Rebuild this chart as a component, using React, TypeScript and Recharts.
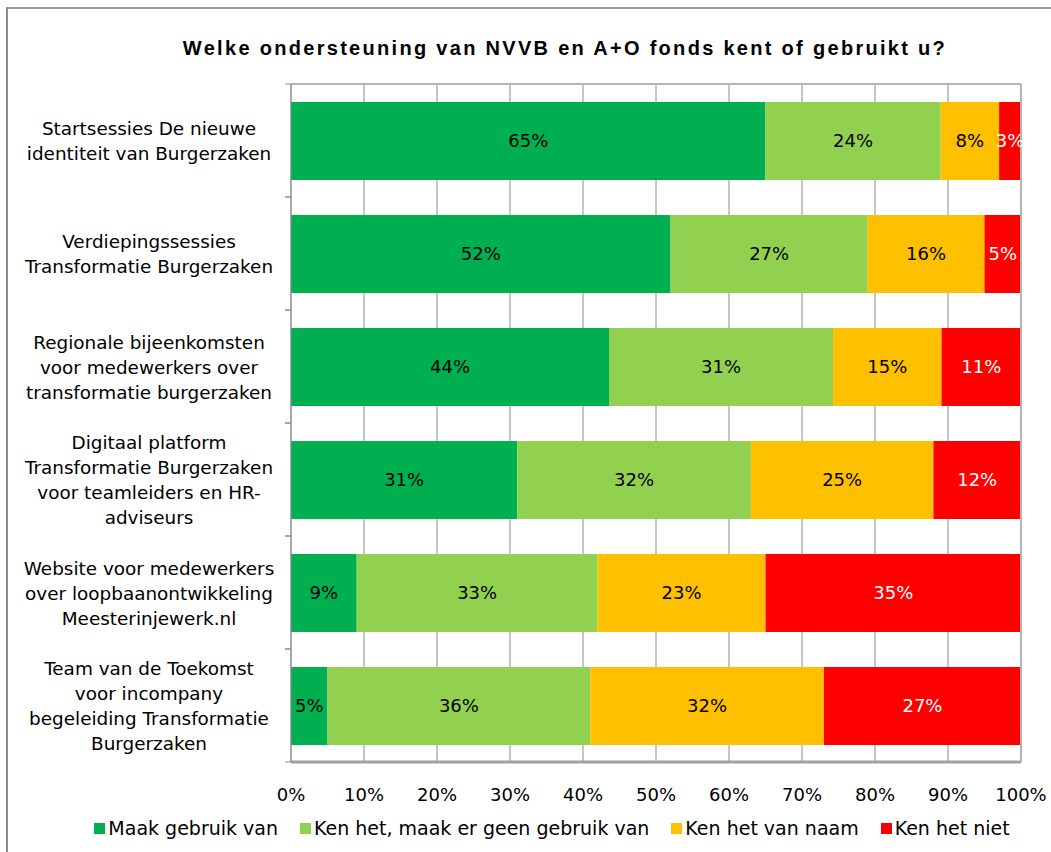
import React from "react";
import {
  BarChart,
  Bar,
  XAxis,
  YAxis,
  CartesianGrid,
  LabelList,
} from "recharts";

const categories = [
  "Startsessies De nieuwe\nidentiteit van Burgerzaken",
  "Verdiepingssessies\nTransformatie Burgerzaken",
  "Regionale bijeenkomsten\nvoor medewerkers over\ntransformatie burgerzaken",
  "Digitaal platform\nTransformatie Burgerzaken\nvoor teamleiders en HR-\nadviseurs",
  "Website voor medewerkers\nover loopbaanontwikkeling\nMeesterinjewerk.nl",
  "Team van de Toekomst\nvoor incompany\nbegeleiding Transformatie\nBurgerzaken",
];

const maakGebruik = [65, 52, 44, 31, 9, 5];
const kenGeenGebruik = [24, 27, 31, 32, 33, 36];
const kenVanNaam = [8, 16, 15, 25, 23, 32];
const kenNiet = [3, 5, 11, 12, 35, 27];

const seriesNames = [
  "Maak gebruik van",
  "Ken het, maak er geen gebruik van",
  "Ken het van naam",
  "Ken het niet",
];
const seriesKeys = ["maak", "kenGeen", "naam", "niet"];
const seriesColors = ["#00B050", "#92D050", "#FFC000", "#FF0000"];
const labelColors = ["#000000", "#000000", "#000000", "#FFFFFF"];

const percentTicks = [0, 10, 20, 30, 40, 50, 60, 70, 80, 90, 100];

const data = categories.map((name, i) => ({
  name,
  maak: maakGebruik[i],
  kenGeen: kenGeenGebruik[i],
  naam: kenVanNaam[i],
  niet: kenNiet[i],
}));

const FONT = "'DejaVu Sans', Verdana, sans-serif";
const W = 1051;
const H = 852;
const X_AXIS_H = 40;
const MARGIN = { top: 83, right: 29, bottom: 50, left: 0 };
const Y_AXIS_W = 291;
const PLOT_LEFT = MARGIN.left + Y_AXIS_W;
const PLOT_H = H - MARGIN.top - 1 - MARGIN.bottom - X_AXIS_H;
const HALF_BAND = PLOT_H / categories.length / 2;
const LABEL_X = 149;
const LINE_H = 25;

function CategoryTick(props: any) {
  const { y, payload } = props;
  const lines = String(payload.value).split("\n");
  const start = -((lines.length - 1) * LINE_H) / 2 + 7;
  return (
    <g>
      <line x1={PLOT_LEFT - 6} x2={PLOT_LEFT} y1={y - HALF_BAND} y2={y - HALF_BAND} stroke="#8c8c8c" />
      <line x1={PLOT_LEFT - 6} x2={PLOT_LEFT} y1={y + HALF_BAND} y2={y + HALF_BAND} stroke="#8c8c8c" />
      <text x={LABEL_X} y={y} textAnchor="middle" fontSize={18.4} fontFamily={FONT} fill="#000">
        {lines.map((l, i) => (
          <tspan key={i} x={LABEL_X} dy={i === 0 ? start : LINE_H}>
            {l}
          </tspan>
        ))}
      </text>
    </g>
  );
}

export default function App() {
  return (
    <div>
      <div
        style={{
          position: "absolute",
          left: 6,
          top: 7,
          width: W - 6,
          height: H - 7,
          boxSizing: "border-box",
          borderLeft: "2px solid #8c8c8c",
          borderTop: "2px solid #9a9a9a",
        }}
      />
      <div
        style={{
          position: "absolute",
          left: 180,
          top: 36,
          width: 770,
          textAlign: "center",
          fontFamily: "'Liberation Sans', Arial, sans-serif",
          fontWeight: "bold",
          fontSize: 20,
          letterSpacing: 2.3,
          lineHeight: "24px",
          color: "#000",
          whiteSpace: "nowrap",
        }}
      >
        Welke ondersteuning van NVVB en A+O fonds kent of gebruikt u?
      </div>
      <div style={{ position: "absolute", left: 0, top: 0 }}>
        <BarChart
          width={W}
          height={H}
          data={data}
          layout="vertical"
          stackOffset="expand"
          margin={MARGIN}
          barSize={78}
        >
          <CartesianGrid horizontal={false} stroke="#8c8c8c" />
          <XAxis
            type="number"
            domain={[0, 1]}
            ticks={percentTicks.map((t) => t / 100)}
            tickFormatter={(v: number) => `${Math.round(v * 100)}%`}
            axisLine={{ stroke: "#a0a0a0", strokeWidth: 3 }}
            tickLine={false}
            tickSize={0}
            tickMargin={26}
            tick={{ fontSize: 18, fontFamily: FONT, fill: "#000" }}
            height={X_AXIS_H}
          />
          <XAxis
            xAxisId="top"
            orientation="top"
            type="number"
            domain={[0, 1]}
            tick={false}
            tickLine={false}
            axisLine={{ stroke: "#b4b4b4", strokeWidth: 2 }}
            height={1}
          />
          <YAxis
            type="category"
            dataKey="name"
            width={Y_AXIS_W}
            axisLine={{ stroke: "#8c8c8c" }}
            tickLine={false}
            tick={<CategoryTick />}
            interval={0}
          />
          <YAxis
            yAxisId="right"
            orientation="right"
            type="category"
            dataKey="name"
            width={1}
            tick={false}
            tickLine={false}
            axisLine={{ stroke: "#b4b4b4", strokeWidth: 2 }}
          />
          {seriesKeys.map((key, i) => (
            <Bar
              key={key}
              dataKey={key}
              name={seriesNames[i]}
              stackId="a"
              fill={seriesColors[i]}
              isAnimationActive={false}
            >
              <LabelList
                dataKey={key}
                position="center"
                formatter={(v: any) => `${v}%`}
                fill={labelColors[i]}
                fontSize={18}
                fontFamily={FONT}
              />
            </Bar>
          ))}
        </BarChart>
      </div>
      <div
        style={{
          position: "absolute",
          left: 0,
          top: 816,
          width: W,
          paddingLeft: 53,
          boxSizing: "border-box",
          display: "flex",
          justifyContent: "center",
          alignItems: "center",
          fontFamily: FONT,
          fontSize: 19,
          lineHeight: "24px",
          color: "#000",
          whiteSpace: "nowrap",
        }}
      >
        {seriesNames.map((n, i) => (
          <div key={n} style={{ display: "flex", alignItems: "center", marginRight: i < seriesNames.length - 1 ? 22 : 0 }}>
            <span style={{ display: "inline-block", width: 11, height: 11, background: seriesColors[i], marginRight: 3 }} />
            <span>{n}</span>
          </div>
        ))}
      </div>
    </div>
  );
}
